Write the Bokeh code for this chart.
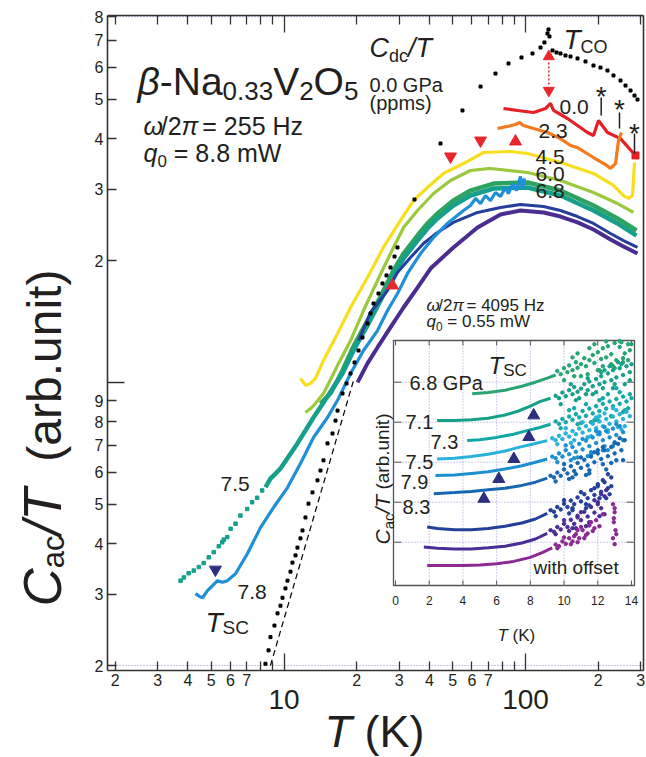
import math
from bokeh.plotting import figure
from bokeh.models import (Range1d, FixedTicker, CustomJSTickFormatter, LogAxis,
                          Label, LinearScale)
from bokeh.embed import file_html
from bokeh.resources import INLINE

FONT = "Liberation Sans"
INK = "#231f20"

# ---------------- main panel data: T (K) vs C/T (arb. unit) ----------------
T_00 = [81.1, 92.7, 108, 121, 126.9, 130.6, 149.2, 180.6, 191.2, 200.6, 218.5, 247.4, 285.4]
C_00 = [4.746, 4.693, 4.64, 4.746, 4.884, 4.693, 4.484, 4.14, 4.07, 4.433, 4.14, 4.0, 3.634]

T_23 = [76.6, 84.2, 90.9, 94.5, 98.1, 108, 123.4, 139.6, 153.6, 164.2, 191.2, 214.5, 224.9, 235.9, 242.7, 249.7]
C_23 = [4.237, 4.286, 4.335, 4.384, 4.31, 4.237, 4.14, 4.0, 3.846, 3.80, 3.592, 3.45, 3.375, 3.471, 3.956, 4.14]

T_45 = [11.70, 12.27, 12.88, 13.50, 14.57, 16.66, 18.86, 22.17, 25.8, 30.37, 34.38, 39.28, 45.77,
        55.38, 67.0, 86.7, 101.9, 139.6, 191.2, 231.4, 254.6, 267.0, 277.4, 280.0, 282.7]
C_45 = [1.023, 0.983, 0.994, 1.023, 1.133, 1.321, 1.531, 1.816, 2.154, 2.511, 2.813, 3.029, 3.281,
        3.471, 3.696, 3.717, 3.674, 3.491, 3.281, 3.064, 2.894, 2.846, 2.894, 3.15, 3.491]

T_60 = [12.27, 12.88, 13.37, 14.57, 15.29, 16.82, 18.86, 21.34, 24.39, 27.6, 31.26, 35.72, 41.59,
        48.92, 59.2, 71.6, 101.9, 139.6, 191.2, 240.4, 280.0]
C_60 = [0.843, 0.862, 0.882, 0.939, 0.994, 1.114, 1.269, 1.505, 1.785, 2.081, 2.413, 2.658, 2.927,
        3.151, 3.336, 3.375, 3.299, 3.151, 2.944, 2.765, 2.628]

T_68 = [14.16, 15.58, 17.47, 19.4, 22.17, 25.1, 28.4, 31.26, 35.72, 39.28, 43.2, 50.3, 59.2, 73.7,
        101.9, 139.6, 191.2, 240.4, 288.1]
C_68 = [0.887, 0.939, 1.070, 1.227, 1.422, 1.63, 1.89, 2.081, 2.305, 2.469, 2.612, 2.813, 2.977, 3.098,
        3.116, 2.977, 2.734, 2.54, 2.372]

T_75 = [8.38, 8.79, 9.31, 9.67, 11.37, 13.25, 15.14, 17.47, 19.4, 22.17, 25.1, 28.4, 31.26, 35.72,
        39.28, 43.2, 50.3, 59.2, 73.7, 101.9, 139.6, 191.2, 240.4, 288.1]
C_75 = [0.551, 0.579, 0.599, 0.613, 0.707, 0.819, 0.923, 1.052, 1.199, 1.382, 1.593, 1.837, 2.023, 2.24,
        2.399, 2.54, 2.734, 2.894, 3.012, 3.029, 2.894, 2.658, 2.469, 2.305]
T_75_pts = [3.73, 3.85, 4.03, 4.23, 4.44, 4.65, 4.88, 5.12, 5.37, 5.55, 5.63, 5.82, 6.01, 6.30,
            6.60, 7.04, 7.38, 7.74, 8.12]
C_75_pts = [0.324, 0.330, 0.338, 0.343, 0.350, 0.358, 0.370, 0.381, 0.394, 0.403, 0.409, 0.415, 0.435,
            0.448, 0.469, 0.487, 0.506, 0.519, 0.541]

T_78 = [4.30, 4.47, 4.60, 4.82, 5.06, 5.30, 5.56, 5.83, 6.30, 7.06, 7.99, 9.05, 10.34, 11.70, 13.25,
        15.14, 16.82, 18.86, 21.34, 24.39, 26.83, 29.51, 32.47, 36.76, 41.59, 47.5, 55.38, 59.2, 62.1,
        65.1, 68.3, 71.6, 75.1, 78.8, 82.6, 85.0, 88.4, 91.8, 95.3, 97.2, 99.1]
C_78 = [0.301, 0.296, 0.294, 0.306, 0.315, 0.324, 0.321, 0.324, 0.337, 0.378, 0.438, 0.491, 0.550,
        0.631, 0.731, 0.819, 0.913, 1.052, 1.199, 1.343, 1.505, 1.658, 1.858, 2.081, 2.279, 2.469,
        2.658, 2.734, 2.846, 2.765, 2.894, 2.81, 2.944, 2.877, 3.029, 2.927, 3.098, 2.977, 3.225,
        3.012, 3.189]

T_83 = [20.35, 22.81, 26.83, 29.51, 33.4, 37.8, 43.2, 50.3, 63.3, 78.8, 95.3, 118.8, 139.6, 164.2,
        191.2, 224.9, 254.6, 290.9]
C_83 = [1.269, 1.488, 1.686, 1.868, 2.034, 2.203, 2.345, 2.483, 2.628, 2.703, 2.75, 2.719, 2.658,
        2.568, 2.469, 2.332, 2.24, 2.154]

T_87 = [20.16, 22.17, 24.39, 27.6, 31.26, 35.72, 40.43, 50.3, 63.3, 78.8, 95.3, 118.8, 139.6, 164.2,
        191.2, 224.9, 254.6, 290.9]
C_87 = [1.0, 1.114, 1.22, 1.367, 1.531, 1.715, 1.911, 2.154, 2.413, 2.598, 2.658, 2.628, 2.568, 2.483,
        2.385, 2.253, 2.166, 2.081]

# C_dc/T at 0.0 GPa (ppms)
T_dc = [8.38, 8.63, 8.79, 9.13, 9.40, 9.67, 9.86, 10.14, 10.34, 10.64, 10.84, 11.16, 11.37, 11.70,
        11.93, 12.27, 12.63, 13.12, 13.76, 14.16, 14.57, 15.14, 15.88, 16.34, 16.66, 17.47, 18.15,
        18.86, 19.59, 20.35, 21.13, 22.17, 22.81, 23.48, 24.62, 25.58, 26.57, 27.61, 28.69, 29.51,
        34.7, 44.46, 54.83, 65.14, 75.11, 85.04, 96.25, 106.9, 115.4, 119.8, 123.3, 124.5, 125.7,
        129.4, 134.4, 139.6, 146.4, 153.6, 164.2, 177.2, 191.2, 204.4, 218.5, 231.4, 247.4, 259.5,
        272.2, 282.7, 290.9]
C_dc = [0.202, 0.218, 0.235, 0.251, 0.269, 0.281, 0.294, 0.310, 0.324, 0.341, 0.359, 0.374, 0.391,
        0.412, 0.431, 0.464, 0.502, 0.535, 0.573, 0.606, 0.642, 0.707, 0.748, 0.805, 0.852, 0.939,
        0.994, 1.052, 1.120, 1.199, 1.291, 1.398, 1.480, 1.566, 1.658, 1.755, 1.837, 1.922, 2.046,
        2.154, 2.829, 3.890, 4.693, 5.377, 5.789, 6.131, 6.343, 6.489, 6.714, 6.909, 7.271, 7.438,
        7.148, 6.601, 6.527, 6.489, 6.416, 6.379, 6.308, 6.201, 6.06, 5.99, 5.89, 5.726, 5.565, 5.408,
        5.257, 5.109, 4.994]

# phonon guide line
T_ph = [8.79, 19.4]
C_ph = [0.200, 1.011]

# markers
T_arrow_dn = [48.92, 65.14]
C_arrow_dn = [3.613, 3.956]
T_arrow_up = [90.9, 28.14]
C_arrow_up = [3.934, 1.735]
T_co = 124.9
C_co_arrow = [6.379, 5.257]
C_co_dot = [6.166, 5.44]
T_sc_main = [5.20]
C_sc_main = [0.345]
T_star = [205.8, 245.0, 282.7]
C_star_top = [5.052, 4.64, 4.118]
C_star_bot = [4.56, 4.237, 3.674]

x_minor_vals = [2, 3, 4, 5, 6, 7, 8, 9, 20, 30, 40, 50, 60, 70, 80, 90, 200, 300]
x_major_vals = [10, 100]
y_tick_vals = [0.2, 0.3, 0.4, 0.5, 0.6, 0.7, 0.8, 0.9, 2, 3, 4, 5, 6, 7, 8]
y_major_vals = [1]
y_dotted_grid = [0.2, 8]

# ---------------- inset data: T (K) vs C_ac/T with offset ----------------
iT_68 = [4.55, 5.5, 6.5, 7.5, 8.3, 9.0, 9.5]
iY_68 = [4.71, 4.74, 4.80, 4.90, 5.0, 5.1, 5.18]
iTd_68 = [9.6, 9.8, 10.0, 10.2, 10.3, 10.5, 10.7, 10.8, 11.0, 11.2, 11.3, 11.5, 11.7, 11.8, 12.0, 12.2,
          12.3, 12.5, 12.6, 12.8, 13.0, 13.1, 13.3, 13.4, 13.6, 13.8, 13.9, 12.1, 12.9, 13.5, 11.4, 10.6,
          10.0, 10.5, 11.0, 11.5, 12.0, 12.5, 13.0, 13.5, 14.0, 10.8, 11.8, 12.8, 13.8, 12.3, 13.3]
iYd_68 = [5.28, 5.20, 5.35, 5.25, 5.42, 5.30, 5.50, 5.36, 5.45, 5.60, 5.40, 5.55, 5.68, 5.48, 5.75, 5.58,
          5.85, 5.62, 5.90, 5.70, 5.98, 5.55, 5.88, 6.00, 5.72, 5.95, 5.80, 5.30, 5.40, 5.50, 5.20, 5.15,
          5.05, 5.62, 5.15, 5.85, 5.30, 6.02, 5.35, 5.60, 5.95, 5.72, 5.95, 5.45, 5.55, 5.40, 6.03]

iT_71 = [2.47, 3.5, 4.5, 5.5, 6.5, 7.3, 8.0, 8.6, 9.2]
iY_71 = [4.04, 4.04, 4.06, 4.10, 4.18, 4.28, 4.40, 4.52, 4.60]
iTd_71 = [9.5, 9.7, 9.9, 10.1, 10.3, 10.5, 10.6, 10.8, 11.0, 11.2, 11.4, 11.5, 11.7, 11.9, 12.1, 12.2,
          12.4, 12.6, 12.8, 12.9, 13.1, 13.3, 13.5, 13.7, 13.9, 14.0, 12.3, 13.0, 11.3,
          9.8, 10.4, 10.9, 11.4, 11.9, 12.4, 12.9, 13.4, 13.9, 10.7, 11.7, 12.7, 13.6, 12.2, 13.2]
iYd_71 = [4.66, 4.60, 4.74, 4.65, 4.80, 4.70, 4.88, 4.76, 4.84, 4.95, 4.80, 5.02, 4.90, 5.08, 4.95, 5.15,
          5.00, 5.22, 5.05, 5.30, 5.12, 5.35, 5.18, 5.40, 5.25, 5.45, 4.85, 4.95, 4.70,
          4.45, 4.95, 4.60, 5.10, 4.75, 5.30, 4.85, 5.45, 5.05, 4.55, 4.70, 5.40, 4.95, 5.25, 5.50]

iT_73 = [4.25, 5.0, 6.0, 7.0, 7.8, 8.5, 9.2]
iY_73 = [3.54, 3.56, 3.62, 3.70, 3.79, 3.86, 3.95]
iTd_73 = [9.5, 9.7, 9.9, 10.1, 10.3, 10.5, 10.7, 10.9, 11.1, 11.3, 11.5, 11.7, 11.9, 12.1, 12.3, 12.5,
          12.7, 12.9, 13.1, 13.3, 13.5, 13.7, 13.9, 14.0, 12.0, 12.8, 13.6, 11.0,
          9.8, 10.3, 10.8, 11.3, 11.8, 12.3, 12.8, 13.3, 13.8, 10.6, 11.6, 12.6, 13.5, 12.1, 13.1]
iYd_73 = [4.02, 3.96, 4.08, 4.00, 4.14, 4.06, 4.20, 4.12, 4.28, 4.16, 4.34, 4.22, 4.40, 4.28, 4.46, 4.34,
          4.52, 4.40, 4.58, 4.46, 4.64, 4.52, 4.70, 4.60, 4.05, 4.15, 4.30, 3.98,
          3.85, 4.30, 3.95, 4.45, 4.05, 4.60, 4.15, 4.75, 4.35, 4.35, 4.00, 4.70, 4.25, 4.55, 4.85]

iT_75 = [2.47, 3.5, 4.5, 5.5, 6.5, 7.3, 8.1, 9.0]
iY_75 = [3.08, 3.10, 3.14, 3.20, 3.28, 3.37, 3.45, 3.54]
iTd_75 = [9.3, 9.5, 9.7, 9.9, 10.1, 10.3, 10.5, 10.7, 10.9, 11.1, 11.3, 11.5, 11.7, 11.9, 12.1, 12.3,
          12.5, 12.7, 12.9, 13.1, 13.3, 13.5, 13.7, 13.9, 12.0, 12.6, 11.4, 13.2,
          9.6, 10.1, 10.6, 11.1, 11.6, 12.1, 12.6, 13.1, 13.6, 10.4, 11.4, 12.4, 13.4, 11.9, 12.9]
iYd_75 = [3.60, 3.55, 3.66, 3.58, 3.72, 3.64, 3.78, 3.70, 3.84, 3.74, 3.90, 3.80, 3.96, 3.85, 4.02, 3.90,
          4.08, 3.96, 4.14, 4.02, 4.20, 4.08, 4.26, 4.15, 3.70, 3.80, 3.62, 3.88,
          3.45, 3.85, 3.55, 4.00, 3.65, 4.15, 3.75, 4.30, 3.90, 3.48, 3.62, 4.22, 3.82, 4.12, 4.35]

iT_79 = [2.37, 3.5, 4.5, 5.5, 6.5, 7.5, 8.3, 9.0]
iY_79 = [2.67, 2.68, 2.72, 2.76, 2.83, 2.91, 3.0, 3.08]
iTd_79 = [9.3, 9.5, 9.7, 9.9, 10.1, 10.3, 10.5, 10.7, 10.9, 11.1, 11.3, 11.5, 11.7, 11.9, 12.1, 12.3,
          12.5, 12.7, 12.9, 13.1, 13.3, 13.5, 11.6, 12.4, 13.0, 10.8,
          9.6, 10.1, 10.6, 11.1, 11.6, 12.1, 12.6, 13.1, 13.5, 10.4, 11.4, 12.4, 12.9, 11.9, 12.3]
iYd_79 = [3.14, 3.10, 3.22, 3.14, 3.30, 3.20, 3.38, 3.26, 3.46, 3.32, 3.54, 3.40, 3.62, 3.48, 3.70, 3.55,
          3.78, 3.62, 3.84, 3.68, 3.90, 3.75, 3.25, 3.40, 3.50, 3.12,
          3.00, 3.42, 3.10, 3.58, 3.20, 3.75, 3.30, 3.95, 3.55, 3.05, 3.15, 3.88, 3.40, 3.78, 3.30]

iT_83 = [2.27, 3.5, 4.5, 5.5, 6.5, 7.5, 8.3, 9.0]
iY_83 = [2.21, 2.24, 2.27, 2.31, 2.35, 2.42, 2.50, 2.60]
iTd_83 = [9.2, 9.4, 9.6, 9.8, 10.0, 10.2, 10.4, 10.6, 10.8, 11.0, 11.2, 11.4, 11.6, 11.8, 12.0, 12.2,
          12.4, 12.6, 12.8, 13.0, 13.2, 13.4, 13.6, 11.5, 12.3, 13.1, 10.7,
          9.5, 10.0, 10.5, 11.0, 11.5, 12.0, 12.5, 13.0, 13.5, 10.3, 11.3, 12.3, 12.8, 11.8, 13.3]
iYd_83 = [2.66, 2.62, 2.74, 2.66, 2.82, 2.72, 2.90, 2.78, 2.98, 2.86, 3.06, 2.92, 3.14, 3.00, 3.22, 3.08,
          3.30, 3.15, 3.38, 3.22, 3.46, 3.30, 3.55, 2.80, 2.95, 3.05, 2.70,
          2.52, 2.95, 2.62, 3.12, 2.72, 3.30, 2.82, 3.48, 3.05, 2.58, 2.68, 3.38, 2.98, 3.25, 3.60]

iT_87 = [1.88, 2.5, 3.5, 4.5, 5.5, 6.5, 7.5, 8.3, 9.0]
iY_87 = [1.38, 1.34, 1.31, 1.31, 1.34, 1.40, 1.48, 1.58, 1.72]
iTd_87 = [9.2, 9.4, 9.6, 9.8, 10.0, 10.2, 10.4, 10.6, 10.8, 11.0, 11.2, 11.4, 11.6, 11.8, 12.0, 12.2,
          12.4, 12.6, 12.8, 11.3, 12.1, 10.5, 12.7,
          9.5, 10.0, 10.5, 11.0, 11.5, 12.0, 12.5, 10.3, 11.3, 12.3, 11.8, 12.8, 12.6]
iYd_87 = [1.80, 1.76, 1.88, 1.82, 1.96, 1.88, 2.04, 1.95, 2.12, 2.02, 2.20, 2.10, 2.30, 2.18, 2.40, 2.26,
          2.50, 2.35, 2.62, 1.95, 2.10, 1.85, 2.20,
          1.65, 2.05, 1.80, 2.25, 1.92, 2.45, 2.10, 1.72, 1.85, 2.55, 2.35, 2.40, 2.70]

iT_92 = [1.68, 2.5, 3.5, 4.5, 5.5, 6.5, 7.5, 8.3, 9.0]
iY_92 = [0.88, 0.85, 0.83, 0.83, 0.86, 0.90, 0.98, 1.08, 1.22]
iTd_92 = [9.2, 9.4, 9.6, 9.8, 10.0, 10.2, 10.4, 10.6, 10.8, 11.0, 11.2, 11.4, 11.6, 11.8, 12.0, 12.2,
          12.4, 11.5, 12.1, 10.7, 12.5,
          9.5, 10.0, 10.5, 11.0, 11.5, 12.0, 12.4, 10.3, 11.3, 12.2, 11.8, 10.8]
iYd_92 = [1.30, 1.26, 1.38, 1.32, 1.46, 1.38, 1.56, 1.46, 1.66, 1.55, 1.76, 1.64, 1.88, 1.74, 2.00, 1.85,
          2.15, 1.50, 1.65, 1.35, 2.30,
          1.20, 1.55, 1.35, 1.75, 1.48, 1.95, 1.70, 1.28, 1.40, 2.20, 2.05, 1.62]

iT_96 = [1.88, 3.0, 4.0, 5.0, 6.0, 7.0, 8.0, 8.7, 9.3]
iY_96 = [0.42, 0.42, 0.42, 0.43, 0.46, 0.52, 0.62, 0.74, 0.86]
iTd_96 = [9.5, 9.7, 9.9, 10.1, 10.3, 10.5, 10.7, 10.9, 11.1, 11.3, 11.5, 11.7, 11.9, 10.8, 11.4, 12.9,
          13.0, 12.95, 13.05, 12.9, 13.0, 12.3, 12.1,
          9.6, 10.0, 10.4, 10.8, 11.2, 11.6, 11.0, 10.6, 11.8, 13.0, 12.95, 13.1]
iYd_96 = [0.94, 0.90, 1.02, 0.96, 1.10, 1.02, 1.20, 1.10, 1.30, 1.18, 1.42, 1.28, 1.55, 1.00, 1.22, 1.95,
          1.75, 1.50, 1.30, 1.10, 0.95, 1.70, 1.40,
          0.85, 1.12, 0.95, 1.30, 1.10, 1.50, 1.38, 1.15, 1.35, 1.85, 1.60, 1.20]

iT_sc = [8.20, 7.91, 7.02, 6.13, 5.24]
iY_sc = [4.17, 3.63, 3.08, 2.58, 2.085]

inset_x_ticks = [0, 2, 4, 6, 8, 10, 12, 14]
inset_y_grid = [1, 2, 3, 4, 5]

# ---------------- geometry (pixels of the 646x757 canvas) ----------------
WIDTH, HEIGHT = 646, 757
FL, FR, FT, FB = 107, 643, 15, 670      # the drawn axes box

# pixel -> coordinate helpers (layout / text placement)
def rx(px): return 10 ** (1 + (px - 283.5) / 241.5)
def ry(py): return 2 * 10 ** ((260 - py) / 405)
def ix(px): return (px - 395) / 16.857
def iy(py): return (581.7 - py) / 40

XL, XR, YB, YT = rx(FL), rx(FR), ry(FB), ry(FT)

p = figure(width=WIDTH, height=HEIGHT, x_axis_type="log", y_axis_type="log",
           x_range=Range1d(rx(0), rx(WIDTH)), y_range=Range1d(ry(HEIGHT), ry(0)),
           output_backend="svg", toolbar_location=None,
           min_border_left=0, min_border_right=0, min_border_top=0, min_border_bottom=0)
p.title.visible = False
p.background_fill_color = "white"
p.border_fill_color = "white"
p.outline_line_color = None
p.xgrid.visible = False
p.ygrid.visible = False

fmt_x = CustomJSTickFormatter(code="""
const e = Math.floor(Math.log10(tick) + 1e-9);
const m = Math.round(tick / Math.pow(10, e));
return (m >= 8) ? "" : String(m);
""")
fmt_y = CustomJSTickFormatter(code="""
const e = Math.floor(Math.log10(tick) + 1e-9);
return String(Math.round(tick / Math.pow(10, e)));
""")
fmt_none = CustomJSTickFormatter(code="return '';")

def style_axis(ax):
    ax.axis_line_color = "#333333"
    ax.axis_line_width = 1.6
    ax.major_tick_line_color = "#333333"
    ax.minor_tick_line_color = "#333333"
    ax.major_tick_line_width = 1.3
    ax.minor_tick_line_width = 1.3
    ax.major_tick_out = 0
    ax.minor_tick_out = 0
    ax.major_tick_in = 9
    ax.minor_tick_in = 17
    ax.major_label_text_font = FONT
    ax.major_label_text_font_size = "16px"
    ax.major_label_text_color = INK

xax = p.xaxis[0]
xax.ticker = FixedTicker(ticks=x_minor_vals, minor_ticks=x_major_vals)
xax.formatter = fmt_x
style_axis(xax)
xax.major_label_standoff = 3
xax.fixed_location = YB
xax.bounds = (XL, XR)

yax = p.yaxis[0]
yax.ticker = FixedTicker(ticks=y_tick_vals, minor_ticks=y_major_vals)
yax.formatter = fmt_y
style_axis(yax)
yax.major_label_standoff = 4
yax.fixed_location = XL
yax.bounds = (YB, YT)

top = LogAxis(ticker=FixedTicker(ticks=x_minor_vals, minor_ticks=x_major_vals),
              formatter=fmt_none, major_label_standoff=0, fixed_location=YT, bounds=(XL, XR))
style_axis(top)
p.add_layout(top, "above")

right = LogAxis(ticker=FixedTicker(ticks=y_tick_vals, minor_ticks=y_major_vals),
                formatter=fmt_none, major_label_standoff=0, fixed_location=XR, bounds=(YB, YT))
style_axis(right)
right.major_tick_in = 0
right.minor_tick_in = 0
p.add_layout(right, "right")

p.segment(x0=[XL] * 2, y0=y_dotted_grid, x1=[XR] * 2, y1=y_dotted_grid,
          line_color="#8c8cc8", line_dash="1 2", line_width=1.2)

# ---------------- main curves ----------------
p.line(T_ph, C_ph, line_color="black", line_width=1.2, line_dash="6 4")
p.line(T_00, C_00, line_color="#e41f26", line_width=3.2)
p.scatter([T_00[-1]], [C_00[-1]], marker="square", size=7, color="#e41f26")
p.line(T_23, C_23, line_color="#f47b20", line_width=3.2)
p.line(T_45, C_45, line_color="#f7df1e", line_width=3.2)
p.line(T_60, C_60, line_color="#9bc83d", line_width=3.2)
p.line(T_68, C_68, line_color="#2ea35f", line_width=4.5)
p.line(T_75, C_75, line_color="#16a08c", line_width=4.5)
p.scatter(T_75_pts, C_75_pts, marker="square", size=3.5, color="#16a08c")
p.line(T_87, C_87, line_color="#4b2d92", line_width=4)
p.line(T_83, C_83, line_color="#263f9d", line_width=3)
p.line(T_78, C_78, line_color="#1f8fd8", line_width=3.2)
p.scatter(T_dc, C_dc, marker="square", size=3, color="black")

p.scatter(T_arrow_dn, C_arrow_dn, marker="inverted_triangle", size=12, color="#e8262c")
p.scatter(T_arrow_up, C_arrow_up, marker="triangle", size=12, color="#e8262c")
p.segment(x0=[T_co], y0=[C_co_dot[0]], x1=[T_co], y1=[C_co_dot[1]], line_color="#e8262c",
          line_width=1.5, line_dash="2 2")
p.scatter([T_co], [C_co_arrow[0]], marker="triangle", size=11, color="#e8262c")
p.scatter([T_co], [C_co_arrow[1]], marker="inverted_triangle", size=11, color="#e8262c")
p.scatter(T_sc_main, C_sc_main, marker="inverted_triangle", size=12, color="#2b2f7e")
p.segment(x0=T_star, y0=C_star_top, x1=T_star, y1=C_star_bot, line_color=INK, line_width=1.5)

# ---------------- inset on extra linear ranges ----------------
p.extra_x_ranges = {"ix": Range1d(ix(0), ix(WIDTH))}
p.extra_y_ranges = {"iy": Range1d(iy(HEIGHT), iy(0))}
p.extra_x_scales = {"ix": LinearScale()}
p.extra_y_scales = {"iy": LinearScale()}
IN = dict(x_range_name="ix", y_range_name="iy")

ib_l, ib_r, ib_b, ib_t = ix(393), ix(634), iy(585), iy(340)
p.quad(left=[ib_l], right=[ib_r], bottom=[ib_b], top=[ib_t], fill_color="white",
       line_color="#555555", line_width=1.3, **IN)
p.segment(x0=inset_x_ticks[1:-1], y0=[ib_b] * 6, x1=inset_x_ticks[1:-1], y1=[ib_t] * 6,
          line_color="#9a9ad2", line_dash="1 2", line_width=1, **IN)
p.segment(x0=[ib_l] * 5, y0=inset_y_grid, x1=[ib_r] * 5, y1=inset_y_grid,
          line_color="#9a9ad2", line_dash="1 2", line_width=1, **IN)
tk = 5 / 40.0
p.segment(x0=inset_x_ticks, y0=[ib_b] * 8, x1=inset_x_ticks, y1=[ib_b + tk] * 8,
          line_color="#555555", line_width=1, **IN)
p.segment(x0=inset_x_ticks, y0=[ib_t] * 8, x1=inset_x_ticks, y1=[ib_t - tk] * 8,
          line_color="#555555", line_width=1, **IN)
tl = 8 / 16.857
p.segment(x0=[ib_l] * 5, y0=inset_y_grid, x1=[ib_l + tl] * 5, y1=inset_y_grid,
          line_color="#555555", line_width=1, **IN)
p.segment(x0=[ib_r] * 5, y0=inset_y_grid, x1=[ib_r - tl] * 5, y1=inset_y_grid,
          line_color="#555555", line_width=1, **IN)

inset_sets = [
    (iT_68, iY_68, iTd_68, iYd_68, "#27a472"),
    (iT_71, iY_71, iTd_71, iYd_71, "#15a08a"),
    (iT_73, iY_73, iTd_73, iYd_73, "#12a8a6"),
    (iT_75, iY_75, iTd_75, iYd_75, "#29b2da"),
    (iT_79, iY_79, iTd_79, iYd_79, "#1b8fd1"),
    (iT_83, iY_83, iTd_83, iYd_83, "#1767b0"),
    (iT_87, iY_87, iTd_87, iYd_87, "#223f99"),
    (iT_92, iY_92, iTd_92, iYd_92, "#4a2c97"),
    (iT_96, iY_96, iTd_96, iYd_96, "#8b2a93"),
]
for lt, ly, dt, dy, col in inset_sets:
    p.line(lt, ly, line_color=col, line_width=3, **IN)
    p.scatter(dt, dy, marker="circle", size=3.5, color=col, **IN)
p.scatter(iT_sc, iY_sc, marker="triangle", size=12, color="#2b2f7e", **IN)

# ---------------- text ----------------
W = {' ': .278, '(': .333, ')': .333, '-': .333, '.': .278, '/': .278, '=': .584,
     'a': .556, 'b': .556, 'c': .5, 'd': .556, 'e': .556, 'f': .278, 'h': .556, 'i': .222,
     'm': .833, 'n': .556, 'o': .556, 'p': .556, 'q': .556, 'r': .333, 's': .5, 't': .278,
     'u': .556, 'w': .722, 'z': .5, 'C': .722, 'G': .778, 'H': .722, 'K': .667, 'N': .722,
     'O': .778, 'P': .667, 'S': .667, 'T': .611, 'V': .667, 'W': .944,
     'β': .57, 'ω': .69, 'π': .55}
BASE_SHIFT = 0.3   # rendered baseline sits ~0.3 em below the anchor

def tw(s, size):
    return sum(W.get(ch, .556) for ch in s) * size

def put(px, py, text, size, style="normal", mode="main", angle=0.0, align="left",
        baseline="alphabetic", color=INK):
    if baseline == "alphabetic":
        if angle == 0:
            py -= BASE_SHIFT * size
        else:
            px -= BASE_SHIFT * size
    if mode == "inset":
        kw = dict(x=ix(px), y=iy(py), **IN)
    else:
        kw = dict(x=rx(px), y=ry(py))
    p.add_layout(Label(text=text, text_font=FONT, text_font_size=f"{size}px",
                       text_font_style=style, text_color=color, text_align=align,
                       text_baseline=baseline, angle=angle, **kw))

def rich(parts, px, py, mode="main", angle=0.0):
    pos = px if angle == 0 else py
    for text, size, style, dy in parts:
        body = text.lstrip(" ")
        lead = tw(text[:len(text) - len(body)], size)
        pos += lead if angle == 0 else -lead
        if angle == 0:
            put(pos, py + dy, body, size, style, mode)
            pos += tw(body, size)
        else:
            put(px + dy, pos, body, size, style, mode, angle=angle)
            pos -= tw(body, size)

# axis titles and decade labels
rich([("C", 53, "italic", 0), ("ac", 31, "normal", 4), ("/T", 53, "italic", 0),
      ("  (arb.unit)", 48, "normal", 0)], 58, 606, angle=math.pi / 2)
rich([("T", 45, "italic", 0), (" (K)", 45, "normal", 0)], 324, 744)
put(283.5, 707, "10", 28, align="center")
put(525, 707, "100", 28, align="center")

# main annotations
rich([("β", 39, "italic", 0), ("-Na", 39, "normal", 0), ("0.33", 26, "normal", 5),
      ("V", 39, "normal", 0), ("2", 26, "normal", 5), ("O", 39, "normal", 0),
      ("5", 26, "normal", 5)], 137, 93)
rich([("ω", 25, "italic", 0), ("/2", 25, "normal", 0), ("π", 25, "italic", 0),
      (" = 255 Hz", 25, "normal", 0)], 143, 133)
rich([("q", 25, "italic", 0), ("0", 17, "normal", 6), (" = 8.8 mW", 25, "normal", 0)], 143, 160)
rich([("C", 27, "italic", 0), ("dc", 18, "normal", 5), ("/T", 27, "italic", 0)], 369, 56)
put(369, 90, "0.0 GPa", 20)
put(369, 108, "(ppms)", 20)
rich([("T", 28, "italic", 0), ("CO", 18, "normal", 5)], 563, 47)
for lbl, lx, ly in [("0.0", 559, 113), ("2.3", 538, 137), ("4.5", 535, 163),
                    ("6.0", 535, 180), ("6.8", 535, 197), ("7.5", 220, 490), ("7.8", 237, 598)]:
    put(lx, ly, lbl, 21)
rich([("T", 28, "italic", 0), ("SC", 19, "normal", 3)], 205, 630)
for sx, sy in [(600.7, 104), (619, 117), (634, 141)]:
    put(sx, sy, "*", 28, align="center")
rich([("ω", 17, "italic", 0), ("/2", 17, "normal", 0), ("π", 17, "italic", 0),
      (" = 4095 Hz", 17, "normal", 0)], 426, 310)
rich([("q", 17, "italic", 0), ("0", 12, "normal", 4), (" = 0.55 mW", 17, "normal", 0)], 426, 326)

# inset annotations
for t in inset_x_ticks:
    p.add_layout(Label(x=t, y=iy(600), text=str(t), text_font=FONT, text_font_size="12px",
                       text_color=INK, text_align="center", text_baseline="middle", **IN))
rich([("T", 17, "italic", 0), (" (K)", 17, "normal", 0)], 497, 640, mode="inset")
rich([("C", 21, "italic", 0), ("ac", 15, "normal", 4), ("/T", 21, "italic", 0),
      (" (arb.unit)", 19, "normal", 0)], 388, 544, mode="inset", angle=math.pi / 2)
rich([("T", 24, "italic", 0), ("SC", 17, "normal", 3)], 488, 372, mode="inset")
put(409, 388, "6.8 GPa", 20, mode="inset")
for lbl, lx, ly in [("7.1", 405, 427), ("7.3", 430, 447), ("7.5", 405, 467),
                    ("7.9", 400, 487), ("8.3", 402, 512)]:
    put(lx, ly, lbl, 20, mode="inset")
put(533, 573, "with offset", 19, mode="inset")

open("out.html", "w").write(file_html(p, INLINE))
